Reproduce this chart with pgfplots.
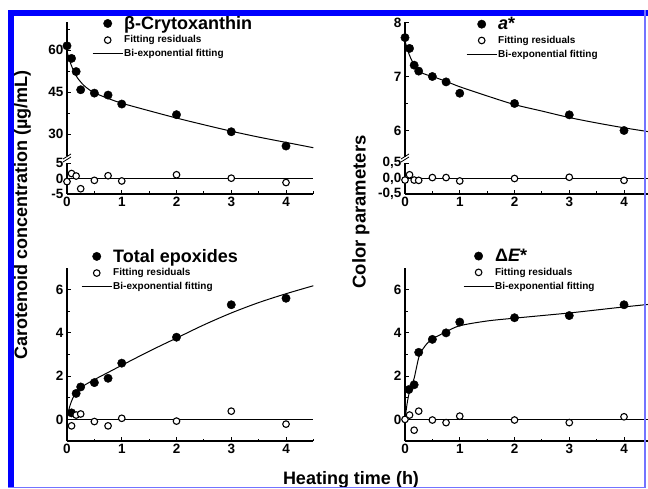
\documentclass[border=0pt]{standalone}
\usepackage{fontspec}
\setmainfont{Liberation Sans}
\usepackage{pgfplots}
\pgfplotsset{compat=1.18}

\pgfplotsset{
  panel/.style={scale only axis, anchor=south west, xmin=0, xmax=4.5,
    axis line style={line width=1.1pt},
    tick align=inside, major tick length=4pt, minor tick length=2.5pt,
    every tick/.style={black, line width=0.9pt},
    /pgf/number format/assume math mode=true,
    ticklabel style={font=\bfseries\fontsize{13.5}{13.5}\selectfont},
    legend cell align=left,
    legend image code/.code={\draw[mark repeat=2,mark phase=2,##1] plot coordinates {(0pt,0pt) (15pt,0pt) (30pt,0pt)};},
    legend style={draw=none, fill=none, inner sep=0pt, anchor=north west,
      row sep=3pt, nodes={inner sep=1pt}}},
  bottomaxis/.style={axis x line*=bottom, axis y line*=left,
    xtick={0,1,2,3,4}, xticklabels={0,1,2,3,4}, minor xtick={0.5,1.5,2.5,3.5,4.5}},
  topaxis/.style={axis x line=none, axis y line*=left},
  dots/.style={only marks, mark=*, mark size=4.2pt, black},
  rings/.style={only marks, mark=*, mark size=3.3pt, black, line width=1.1pt, mark options={fill=white}},
  fitline/.style={black, line width=1pt, smooth},
  zeroline/.style={black, line width=1.3pt}
}
\newcommand{\bigtxt}{\bfseries\fontsize{18}{20}\selectfont}
\newcommand{\smalltxt}{\bfseries\fontsize{10}{11}\selectfont}

\begin{document}
\begin{tikzpicture}[x=1pt,y=1pt]
\path[use as bounding box] (0,0) rectangle (648,488);
\clip (0,0) rectangle (648,488);

% top left, upper part
\begin{axis}[panel, topaxis, at={(67pt,331.6pt)}, width=246.4pt, height=134.4pt,
  ymin=22, ymax=70, ytick={30,45,60}, yticklabels={30,45,60}, minor ytick={37.5,52.5,67.5},
  legend style={at={(axis description cs:0.1015,1.052)}}]
\addplot[dots] coordinates {(0,61.5) (0.083,57) (0.167,52.3) (0.25,45.8) (0.5,44.6) (0.75,43.9) (1,40.7) (2,36.9) (3,30.8) (4,25.7)};
\addlegendentry{\bigtxt β-Crytoxanthin}
\addlegendimage{rings}
\addlegendentry{\smalltxt Fitting residuals}
\addplot[fitline] coordinates {(0,59.5) (0.05,56.1) (0.1,53.5) (0.15,51.4) (0.2,49.8) (0.3,47.5) (0.4,45.9) (0.5,44.7) (0.75,42.7) (1,41.0) (1.5,38.3) (2,35.7) (2.5,33.3) (3,31.0) (3.5,28.9) (4,27.0) (4.5,25.1)};
\addlegendentry{\smalltxt Bi-exponential fitting}
\end{axis}

% top left, residuals
\begin{axis}[panel, bottomaxis, at={(67pt,294pt)}, width=246.4pt, height=31pt,
  ymin=-5, ymax=5, ytick={-5,0,5}, yticklabels={-5,0,5}]
\addplot[zeroline] coordinates {(0,0) (4.5,0)};
\addplot[rings] coordinates {(0,-1) (0.083,1.6) (0.167,0.8) (0.25,-3.3) (0.5,-0.6) (0.75,0.9) (1,-0.8) (2,1.2) (3,0.1) (4,-1.3)};
\end{axis}

% top right, upper part
\begin{axis}[panel, topaxis, at={(405pt,330.5pt)}, width=246.4pt, height=135pt,
  ymin=5.5, ymax=8, ytick={6,7,8}, yticklabels={6,7,8}, minor ytick={6.5,7.5},
  legend style={at={(axis description cs:0.2476,1.048)}}]
\addplot[dots] coordinates {(0,7.72) (0.083,7.52) (0.167,7.21) (0.25,7.10) (0.5,7.0) (0.75,6.9) (1,6.69) (2,6.5) (3,6.29) (4,6.0)};
\addlegendentry{\bigtxt\itshape a\upshape*}
\addlegendimage{rings}
\addlegendentry{\smalltxt Fitting residuals}
\addplot[fitline] coordinates {(0,7.66) (0.05,7.48) (0.1,7.35) (0.15,7.25) (0.2,7.17) (0.25,7.11) (0.3,7.07) (0.4,7.03) (0.5,7.0) (0.75,6.91) (1,6.81) (1.5,6.64) (2,6.48) (2.5,6.36) (3,6.24) (3.5,6.14) (4,6.05) (4.5,5.97)};
\addlegendentry{\smalltxt Bi-exponential fitting}
\end{axis}

% top right, residuals
\begin{axis}[panel, bottomaxis, at={(405pt,294pt)}, width=246.4pt, height=31pt,
  ymin=-0.5, ymax=0.5, ytick={-0.5,0,0.5}, yticklabels={{-0,5},{0,0},{0,5}}]
\addplot[zeroline] coordinates {(0,0) (4.5,0)};
\addplot[rings] coordinates {(0,-0.05) (0.083,0.12) (0.167,-0.05) (0.25,-0.06) (0.5,0.03) (0.75,0.03) (1,-0.08) (2,0) (3,0.04) (4,-0.06)};
\end{axis}

% bottom left
\begin{axis}[panel, bottomaxis, at={(67pt,47pt)}, width=246.4pt, height=173pt,
  ymin=-1, ymax=7, ytick={0,2,4,6}, yticklabels={0,2,4,6}, minor ytick={-1,1,3,5},
  legend style={at={(axis description cs:0.057,1.116)}}]
\addplot[dots] coordinates {(0.083,0.3) (0.167,1.2) (0.25,1.5) (0.5,1.7) (0.75,1.9) (1,2.6) (2,3.8) (3,5.3) (4,5.6)};
\addlegendentry{\bigtxt Total epoxides}
\addplot[rings] coordinates {(0.083,-0.3) (0.167,0.2) (0.25,0.25) (0.5,-0.1) (0.75,-0.3) (1,0.05) (2,-0.08) (3,0.38) (4,-0.22)};
\addlegendentry{\smalltxt Fitting residuals}
\addplot[fitline] coordinates {(0,0.1) (0.05,0.6) (0.1,0.95) (0.15,1.18) (0.2,1.34) (0.3,1.55) (0.4,1.70) (0.5,1.84) (0.75,2.17) (1,2.50) (1.5,3.15) (2,3.76) (2.5,4.37) (3,4.92) (3.5,5.40) (4,5.81) (4.5,6.18)};
\addlegendentry{\smalltxt Bi-exponential fitting}
\addplot[zeroline, forget plot] coordinates {(0,0) (4.5,0)};
\end{axis}

% bottom right
\begin{axis}[panel, bottomaxis, at={(405pt,47pt)}, width=246.4pt, height=173pt,
  ymin=-1, ymax=7, ytick={0,2,4,6}, yticklabels={0,2,4,6}, minor ytick={-1,1,3,5},
  legend style={at={(axis description cs:0.235,1.116)}}]
\addplot[dots] coordinates {(0.07,1.38) (0.167,1.6) (0.25,3.1) (0.5,3.7) (0.75,4.0) (1,4.5) (2,4.7) (3,4.8) (4,5.3)};
\addlegendentry{\bigtxt Δ\itshape E\upshape*}
\addplot[rings] coordinates {(0,0) (0.083,0.2) (0.167,-0.5) (0.25,0.38) (0.5,-0.03) (0.75,-0.15) (1,0.15) (2,-0.03) (3,-0.15) (4,0.12)};
\addlegendentry{\smalltxt Fitting residuals}
\addplot[fitline] coordinates {(0,0) (0.04,0.75) (0.083,1.3) (0.125,1.6) (0.167,1.9) (0.21,2.4) (0.25,2.85) (0.3,3.15) (0.4,3.5) (0.5,3.72) (0.75,4.05) (1,4.33) (1.5,4.55) (2,4.68) (2.5,4.8) (3,4.92) (3.5,5.06) (4,5.2) (4.5,5.33)};
\addlegendentry{\smalltxt Bi-exponential fitting}
\addplot[zeroline, forget plot] coordinates {(0,0) (4.5,0)};
\end{axis}

% axis breaks
\foreach \bx in {67,405} {
  \draw[line width=0.8pt] (\bx-4,326) -- (\bx+4,331);
  \draw[line width=0.8pt] (\bx-4,329) -- (\bx+4,334);
}

% axis titles
\node[anchor=base, font=\bfseries\fontsize{18}{18}\selectfont] at (351,4) {Heating time (h)};
\node[rotate=90, anchor=base, font=\bfseries\fontsize{18}{18}\selectfont] at (27,273) {Carotenoid concentration (µg/mL)};
\node[rotate=90, anchor=base, font=\bfseries\fontsize{18.5}{18.5}\selectfont] at (365.5,276) {Color parameters};

% frame
\fill[blue] (8,0) rectangle (14,478);
\fill[blue] (8,472) rectangle (648,478);
\draw[blue!55, line width=1.2pt] (645,478) -- (645,0);
\draw[blue!55, line width=1pt] (8,1) -- (645,1);
\end{tikzpicture}
\end{document}
